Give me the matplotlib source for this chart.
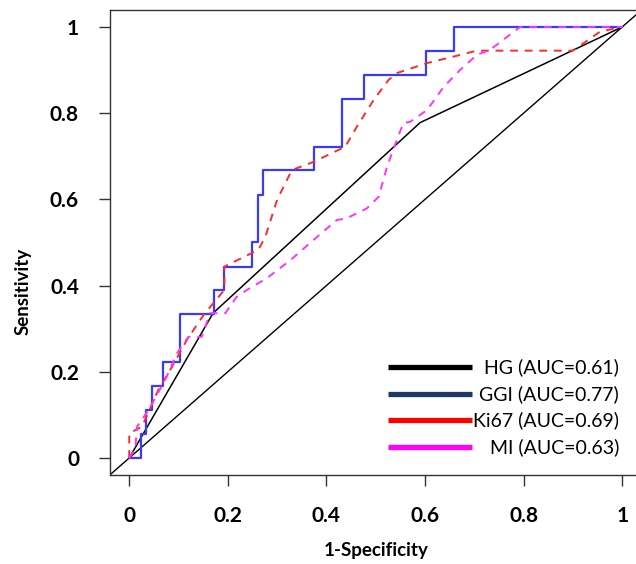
import matplotlib
matplotlib.use("Agg")
import matplotlib.pyplot as plt

# ROC curves (x = 1-specificity, y = sensitivity)
hg_fpr = [0, 0.17, 0.59, 1]
hg_tpr = [0, 0.336, 0.778, 1]

# GGI is a step curve (steps-post corners)
ggi_fpr = [0, 0.024, 0.034, 0.046, 0.068, 0.102, 0.171, 0.193, 0.25, 0.261,
           0.272, 0.375, 0.431, 0.477, 0.602, 0.659, 1]
ggi_tpr = [0, 0.056, 0.111, 0.167, 0.222, 0.333, 0.389, 0.444, 0.5, 0.611,
           0.667, 0.722, 0.833, 0.889, 0.944, 1.0, 1.0]

ki67_fpr = [0, 0, 0.026, 0.059, 0.087, 0.117, 0.151, 0.193, 0.193, 0.262, 0.276,
            0.30, 0.33, 0.374, 0.438, 0.462, 0.496, 0.526, 0.543, 0.604, 0.671,
            0.705, 0.90, 0.955, 1]
ki67_tpr = [0, 0.057, 0.073, 0.158, 0.212, 0.274, 0.332, 0.39, 0.444, 0.483, 0.513,
            0.599, 0.668, 0.687, 0.722, 0.769, 0.831, 0.877, 0.893, 0.916, 0.935,
            0.945, 0.945, 0.989, 1]

mi_fpr = [0, 0.012, 0.016, 0.039, 0.073, 0.097, 0.12, 0.147, 0.164, 0.195, 0.218,
          0.239, 0.279, 0.327, 0.374, 0.421, 0.441, 0.482, 0.506, 0.523, 0.543,
          0.556, 0.57, 0.604, 0.638, 0.671, 0.705, 0.732, 0.793, 1]
mi_tpr = [0, 0.02, 0.073, 0.111, 0.181, 0.243, 0.281, 0.281, 0.336, 0.336, 0.374,
          0.39, 0.417, 0.459, 0.506, 0.552, 0.556, 0.579, 0.606, 0.676, 0.738,
          0.777, 0.78, 0.807, 0.861, 0.90, 0.935, 0.947, 1.0, 1.0]

legend_labels = ["HG (AUC=0.61)", "GGI (AUC=0.77)", "Ki67 (AUC=0.69)", "MI (AUC=0.63)"]
legend_colors = ["black", "#1f3864", "#ff0000", "#ff00ff"]

ticks = [0, 0.2, 0.4, 0.6, 0.8, 1]
tick_labels = ["0", "0.2", "0.4", "0.6", "0.8", "1"]

plt.rcParams['font.family'] = ['Lato', 'DejaVu Sans']

fig = plt.figure(figsize=(6.36, 5.64), dpi=100)
ax = fig.add_axes([0.1722, 0.1574, 0.8371, 0.8254])

# reference diagonal
ax.axline((0, 0), (1, 1), color="black", lw=1.0)

ax.plot(hg_fpr, hg_tpr, color="black", lw=1.1)
ax.plot(ggi_fpr, ggi_tpr, color="#3a3aff", lw=1.6, drawstyle="steps-post")
ax.plot(ki67_fpr, ki67_tpr, color="#ff2a2a", lw=1.4, dashes=(4, 3.5))
ax.plot(mi_fpr, mi_tpr, color="#ff33ff", lw=1.4, dashes=(4, 3.5))

ax.set_xlim(-0.04, 1.04)
ax.set_ylim(-0.04, 1.04)
ax.set_xticks(ticks)
ax.set_xticklabels(tick_labels)
ax.set_yticks(ticks)
ax.set_yticklabels(tick_labels)
ax.tick_params(direction="out", length=7.9, width=1, color="#333333",
               labelsize=15, pad=14)
for t in ax.get_xticklabels() + ax.get_yticklabels():
    t.set_fontweight("bold")

for s in ax.spines.values():
    s.set_color("#333333")
    s.set_linewidth(1.0)

ax.set_xlabel("1-Specificity", fontsize=13.5, fontweight="bold")
ax.set_ylabel("Sensitivity", fontsize=13.5, fontweight="bold")
ax.xaxis.set_label_coords(0.5, -0.143)
ax.yaxis.set_label_coords(-0.147, 0.394)

# hand-made legend, text right aligned like the original
row_y = [0.2325, 0.1745, 0.1186, 0.0606]
for lab, col, yy in zip(legend_labels, legend_colors, row_y):
    ax.plot([0.523, 0.681], [yy, yy], color=col, lw=3.8, transform=ax.transAxes,
            solid_capstyle="butt")
    ax.text(0.957, yy, lab, transform=ax.transAxes, ha="right", va="center",
            fontsize=14)

fig.savefig("out.png", dpi=100)
